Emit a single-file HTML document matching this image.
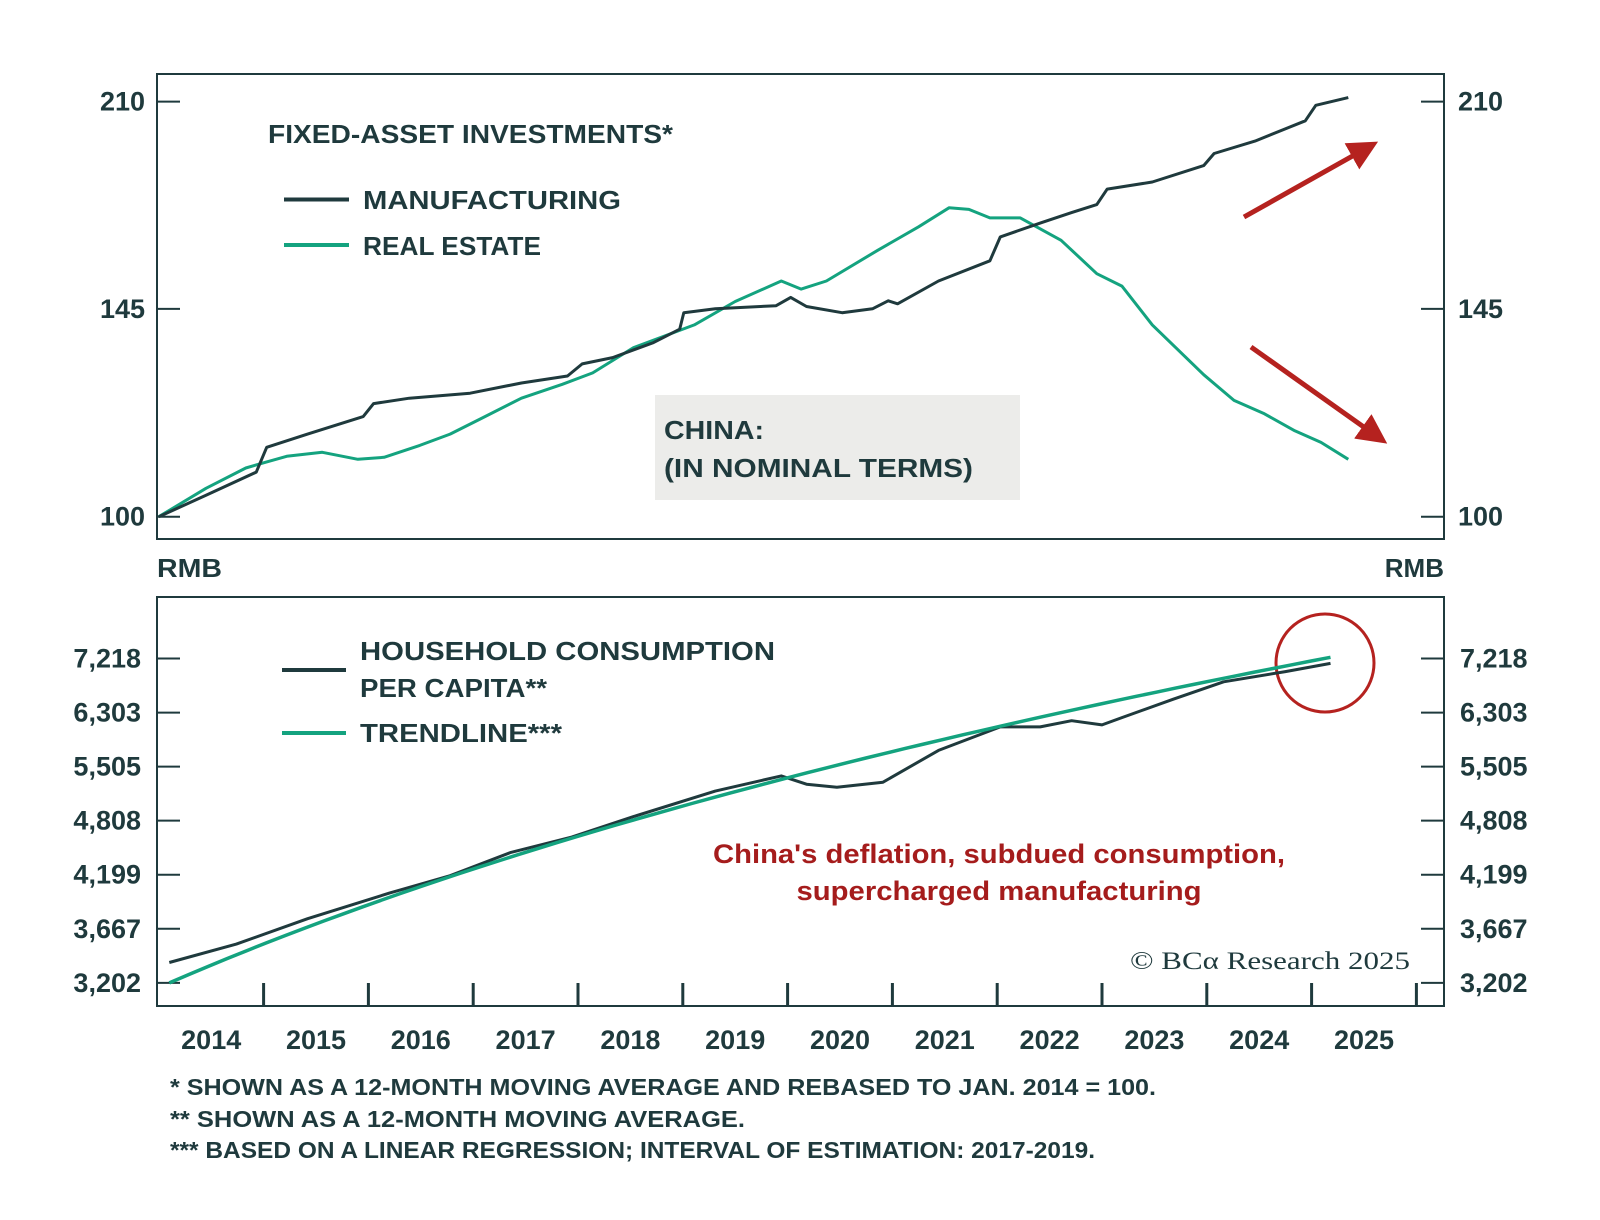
<!DOCTYPE html>
<html><head><meta charset="utf-8"><style>
html,body{margin:0;padding:0;background:#fff;}
svg{display:block;font-family:"Liberation Sans",sans-serif;}
text{font-weight:bold;}
</style></head><body>
<svg id="chart" width="1600" height="1220" viewBox="0 0 1600 1220">
<defs>
<marker id="ah" markerWidth="6" markerHeight="6" refX="3" refY="3" orient="auto" markerUnits="strokeWidth"><path d="M0,0 L6,3 L0,6 Z" fill="#b5221f"/></marker>
</defs>
<rect x="157" y="74" width="1287" height="465" fill="none" stroke="#1f3a3d" stroke-width="2"/>
<rect x="157" y="597" width="1287" height="409" fill="none" stroke="#1f3a3d" stroke-width="2"/>
<rect x="655" y="395" width="365" height="105" fill="#ececea"/>
<text x="664" y="439" font-size="26" fill="#1f3a3d" textLength="100" lengthAdjust="spacingAndGlyphs">CHINA:</text>
<text x="664" y="477" font-size="26" fill="#1f3a3d" textLength="309" lengthAdjust="spacingAndGlyphs">(IN NOMINAL TERMS)</text>
<text x="268" y="143" font-size="26" fill="#1f3a3d" textLength="405" lengthAdjust="spacingAndGlyphs">FIXED-ASSET INVESTMENTS*</text>
<line x1="284" y1="199.5" x2="349" y2="199.5" stroke="#1f3a3d" stroke-width="4"/>
<text x="363" y="209" font-size="26" fill="#1f3a3d" textLength="258" lengthAdjust="spacingAndGlyphs">MANUFACTURING</text>
<line x1="284" y1="245" x2="349" y2="245" stroke="#14a37f" stroke-width="4"/>
<text x="363" y="255" font-size="26" fill="#1f3a3d" textLength="178" lengthAdjust="spacingAndGlyphs">REAL ESTATE</text>
<text x="157" y="577" font-size="26" fill="#1f3a3d" textLength="65" lengthAdjust="spacingAndGlyphs">RMB</text>
<text x="1444" y="577" font-size="26" fill="#1f3a3d" text-anchor="end">RMB</text>
<line x1="1244" y1="217" x2="1365" y2="149" stroke="#b5221f" stroke-width="5" marker-end="url(#ah)"/>
<line x1="1251" y1="347" x2="1375" y2="435" stroke="#b5221f" stroke-width="5" marker-end="url(#ah)"/>
<line x1="282" y1="670" x2="346" y2="670" stroke="#1f3a3d" stroke-width="4"/>
<text x="360" y="660" font-size="26" fill="#1f3a3d" textLength="415" lengthAdjust="spacingAndGlyphs">HOUSEHOLD CONSUMPTION</text>
<text x="360" y="697" font-size="26" fill="#1f3a3d" textLength="187" lengthAdjust="spacingAndGlyphs">PER CAPITA**</text>
<line x1="282" y1="733" x2="346" y2="733" stroke="#14a37f" stroke-width="4"/>
<text x="360" y="742" font-size="26" fill="#1f3a3d" textLength="202" lengthAdjust="spacingAndGlyphs">TRENDLINE***</text>
<text x="999" y="863" font-size="27" fill="#a51c1c" text-anchor="middle" textLength="572" lengthAdjust="spacingAndGlyphs">China's deflation, subdued consumption,</text>
<text x="999" y="900" font-size="27" fill="#a51c1c" text-anchor="middle" textLength="405" lengthAdjust="spacingAndGlyphs">supercharged manufacturing</text>
<text x="1410" y="969" font-size="25" fill="#1f3a3d" text-anchor="end" font-family="Liberation Serif, serif" style="font-weight:normal" textLength="280" lengthAdjust="spacingAndGlyphs">© BCα Research 2025</text>
<circle cx="1325" cy="663" r="49" fill="none" stroke="#b5221f" stroke-width="3"/>
<g font-size="23" fill="#1f3a3d">
<text x="170" y="1095" textLength="986" lengthAdjust="spacingAndGlyphs">* SHOWN AS A 12-MONTH MOVING AVERAGE AND REBASED TO JAN. 2014 = 100.</text>
<text x="170" y="1127" textLength="575" lengthAdjust="spacingAndGlyphs">** SHOWN AS A 12-MONTH MOVING AVERAGE.</text>
<text x="170" y="1158" textLength="925" lengthAdjust="spacingAndGlyphs">*** BASED ON A LINEAR REGRESSION; INTERVAL OF ESTIMATION: 2017-2019.</text>
</g>
<g id="dyn"></g>
</svg>
<script>
const topTicks = [100, 145, 210];
const bottomTicks = [3202, 3667, 4199, 4808, 5505, 6303, 7218];
const bottomTickLabels = ["3,202", "3,667", "4,199", "4,808", "5,505", "6,303", "7,218"];
const yearLabels = [2014, 2015, 2016, 2017, 2018, 2019, 2020, 2021, 2022, 2023, 2024, 2025];
const yearTicks = [2015, 2016, 2017, 2018, 2019, 2020, 2021, 2022, 2023, 2024, 2025, 2026];
const mfgDates = [2014.0,2014.45,2014.93,2015.03,2015.42,2015.95,2016.05,2016.39,2016.97,2017.46,2017.90,2018.04,2018.33,2018.72,2018.97,2019.01,2019.31,2019.89,2020.03,2020.18,2020.52,2020.81,2020.96,2021.05,2021.44,2021.93,2022.03,2022.41,2022.71,2022.95,2023.05,2023.48,2023.97,2024.07,2024.46,2024.94,2025.04,2025.35];
const mfgValues = [100,103.9,108.3,113.2,115.9,119.6,122.4,123.6,124.7,127,128.6,131.4,132.9,136.5,139.8,144,145,145.8,148,145.6,144,145,147.1,146.3,152.4,158,164.9,169,172.2,174.7,179.6,181.9,187.3,191.4,195.7,202.9,208.6,211.5];
const reDates = [2014.0,2014.45,2014.83,2015.03,2015.22,2015.56,2015.90,2016.15,2016.49,2016.78,2017.07,2017.46,2017.85,2018.14,2018.53,2019.11,2019.50,2019.94,2020.13,2020.37,2020.86,2021.25,2021.54,2021.73,2021.93,2022.22,2022.61,2022.95,2023.19,2023.48,2023.97,2024.26,2024.55,2024.84,2025.09,2025.35];
const reValues = [100,105.2,109.1,110.3,111.4,112.2,110.8,111.2,113.6,115.9,119.1,123.6,126.7,129.3,135.3,140.9,146.9,152.4,150.2,152.4,161,167.9,173.7,173.2,170.6,170.6,163.9,154.4,151,140.9,128.9,123.1,120.2,116.6,114.2,110.8];
const consDates = [2014.1,2014.74,2015.42,2016.20,2016.78,2017.36,2017.94,2018.53,2019.31,2019.94,2020.18,2020.47,2020.91,2021.44,2022.03,2022.41,2022.71,2023.0,2023.19,2023.68,2024.16,2024.75,2025.18];
const consValues = [3370,3529,3761,4010,4189,4440,4614,4857,5178,5378,5268,5229,5295,5734,6081,6081,6176,6112,6224,6518,6809,6985,7130];
const trendDates = [2014.1, 2025.18];
const trendValues = [3202, 7240];

const NS = "http://www.w3.org/2000/svg";
const g = document.getElementById("dyn");
const xS = y => 263.6 + (y - 2015) * 104.8;
const yTop = v => 516.7 - Math.log(v / 100) / Math.log(2.1) * (516.7 - 101.6);
const yBot = v => 982.9 - Math.log(v / 3202) / Math.log(7218 / 3202) * (982.9 - 658.5);
function mk(tag, attrs) { const e = document.createElementNS(NS, tag); for (const k in attrs) e.setAttribute(k, attrs[k]); g.appendChild(e); return e; }
function txt(x, y, s, anchor, size) { const t = mk("text", {x: x, y: y, "font-size": size, fill: "#1f3a3d", "text-anchor": anchor}); t.textContent = s; return t; }

topTicks.forEach(v => {
  const y = yTop(v);
  const l1 = mk("line", {x1: 157, y1: y, x2: 180, y2: y, stroke: "#1f3a3d", "stroke-width": 2});
  
  
  const l2 = mk("line", {x1: 1421, y1: y, x2: 1444, y2: y, stroke: "#1f3a3d", "stroke-width": 2});
  
  
  const a = txt(145, y + 9, String(v), "end", 27);
  
  
  const b = txt(1458, y + 9, String(v), "start", 27);
  
  
});
bottomTicks.forEach((v, i) => {
  const y = yBot(v);
  const l1 = mk("line", {x1: 157, y1: y, x2: 180, y2: y, stroke: "#1f3a3d", "stroke-width": 2});
  
  
  const l2 = mk("line", {x1: 1421, y1: y, x2: 1444, y2: y, stroke: "#1f3a3d", "stroke-width": 2});
  
  
  const a = txt(141, y + 9, bottomTickLabels[i], "end", 27);
  
  
  const b = txt(1460, y + 9, bottomTickLabels[i], "start", 27);
  
  
});
yearTicks.forEach(yr => {
  const x = xS(yr);
  const l = mk("line", {x1: x, y1: 983, x2: x, y2: 1006, stroke: "#1f3a3d", "stroke-width": 3});
  
  
});
yearLabels.forEach(yr => {
  const t = txt(xS(yr + 0.5), 1049, String(yr), "middle", 27);
  
  
});
function path(dates, vals, yf, color, w) {
  const d = dates.map((t, i) => (i ? "L" : "M") + xS(t).toFixed(1) + "," + yf(vals[i]).toFixed(1)).join(" ");
  return mk("path", {d: d, fill: "none", stroke: color, "stroke-width": w, "stroke-linejoin": "round"});
}
const re = path(reDates, reValues, yTop, "#14a37f", 3);


const mf = path(mfgDates, mfgValues, yTop, "#1f3a3d", 3);


const cs = path(consDates, consValues, yBot, "#1f3a3d", 3);


// trendline is linear in value, drawn on the log axis (so it curves)
let td = "";
const N = 60;
for (let k = 0; k <= N; k++) {
  const f = k / N;
  const t = trendDates[0] + f * (trendDates[1] - trendDates[0]);
  const v = trendValues[0] + f * (trendValues[1] - trendValues[0]);
  td += (k ? "L" : "M") + xS(t).toFixed(1) + "," + yBot(v).toFixed(1) + " ";
}
const tr = mk("path", {d: td, fill: "none", stroke: "#14a37f", "stroke-width": 3.5});


</script>
</body></html>
